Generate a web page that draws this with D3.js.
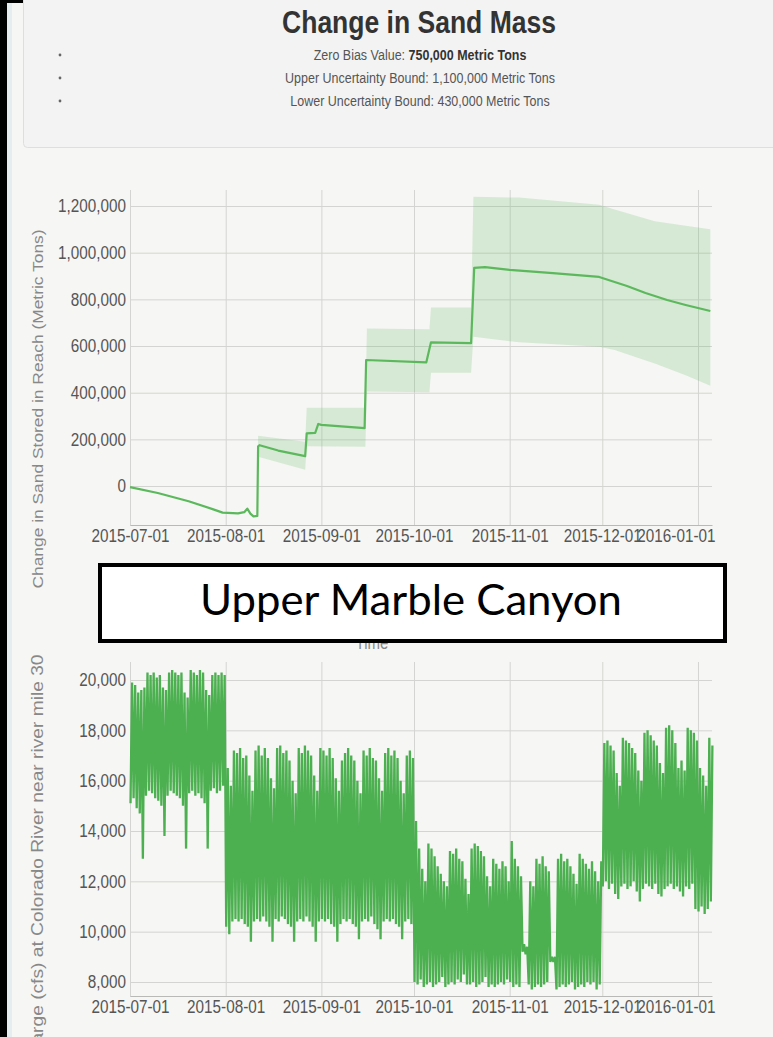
<!DOCTYPE html>
<html>
<head>
<meta charset="utf-8">
<script src="https://cdn.jsdelivr.net/npm/d3@7"></script>
<style>
  html, body { margin: 0; padding: 0; background: #000; }
  svg { display: block; font-family: "Liberation Sans", Arial, sans-serif; }
  /* glyphs of the captured dashboard are a little taller than they are wide */
  .tall { transform-box: fill-box; transform-origin: center; transform: scaleY(1.2); }
  .long { transform-box: fill-box; transform-origin: center; transform: scaleX(1.2); }
</style>
</head>
<body>
<svg id="page" width="773" height="1037"></svg>
<script>
// ---------- sand storage (metric tons) ----------
const sandDates = [
  "2015-07-01", "2015-07-10", "2015-07-20", "2015-07-28", "2015-07-31", "2015-08-05",
  "2015-08-07", "2015-08-08", "2015-08-09", "2015-08-10", "2015-08-11T06:00", "2015-08-11T12:00",
  "2015-08-12", "2015-08-18", "2015-08-26T18:00", "2015-08-27T06:00", "2015-08-30", "2015-08-31",
  "2015-09-01", "2015-09-15T00:00", "2015-09-15T12:00", "2015-10-05", "2015-10-06T12:00",
  "2015-10-19T12:00", "2015-10-20T12:00", "2015-10-24", "2015-11-01", "2015-11-15", "2015-11-30",
  "2015-12-05", "2015-12-09", "2015-12-15", "2015-12-22", "2015-12-28", "2016-01-05"
];
const sandValues = [
  -5000, -30000, -65000, -100000, -114000, -117000,
  -112000, -97000, -118000, -130000, -128000, 170000,
  175000, 152000, 128000, 226000, 228000, 266000,
  262000, 248000, 540000, 530000, 616000,
  612000, 935000, 938000, 926000, 912000, 896000,
  874000, 857000, 827000, 797000, 776000, 750000
];

// uncertainty envelope around the storage estimate
const bandDates = [
  "2015-08-11T12:00", "2015-08-26T18:00", "2015-08-27T06:00", "2015-09-15T06:00",
  "2015-09-15T18:00", "2015-10-06T00:00", "2015-10-06T12:00", "2015-10-19T12:00",
  "2015-10-20T06:00", "2015-11-04", "2015-11-30", "2015-12-05", "2015-12-18",
  "2015-12-28", "2016-01-05"
];
const bandUpper = [
  215000, 190000, 335000, 335000,
  675000, 672000, 765000, 765000,
  1240000, 1236000, 1205000, 1185000, 1135000,
  1115000, 1100000
];
const bandLower = [
  125000, 70000, 170000, 168000,
  405000, 402000, 485000, 485000,
  640000, 616000, 597000, 583000, 525000,
  475000, 430000
];

// ---------- discharge (cfs), daily high and low from 2015-07-01 ----------
const flowStart = "2015-07-01";
const flowHigh = [
  // July
  19900, 19800, 19500, 19600, 19700,
  20300, 20200, 20300, 20100, 20200, 19700, 19600,
  20300, 20400, 20300, 20200, 20300, 19500, 19300,
  20400, 20300, 20200, 20400, 20300, 19600, 19400,
  20200, 20300, 20200, 20300, 20200,
  // August
  16500, 15800, 17200, 17100, 17300, 16900, 17000,
  16200, 15600, 17200, 17400, 17000, 17300, 16900,
  16100, 15700, 17300, 17400, 17100, 17200, 16800,
  16000, 15500, 17300, 17100, 17400, 17200, 17000,
  16200, 15600, 17300,
  // September
  17200, 17000, 17300, 16900,
  16100, 15600, 16800, 17100, 17300, 17000, 16800,
  16000, 15500, 17200, 17000, 17300, 16900, 16800,
  16100, 15600, 17100, 17300, 17000, 17200, 16900,
  16000, 15500, 17000, 17200, 16900,
  // October
  14400, 13300,
  12500, 12000, 13500, 13300, 13000, 12600, 12300,
  12000, 11800, 13200, 13100, 13300, 12900, 12800,
  12100, 11500, 13300, 13500, 13400, 13200, 13000,
  12200, 11800, 12900, 12700, 12500, 12800, 12600,
  12000,
  // November
  13600,
  12900, 12600, 12200, 9500, 9400, 12000,
  11800, 12900, 12700, 13000, 12600, 12400, 9000,
  9000, 12900, 13100, 12800, 12900, 12600, 12300,
  11900, 13100, 12900, 12700, 12500, 12800, 12400,
  12000, 12800,
  // December
  17500, 17600, 17400, 17200, 16300,
  15800, 17700, 17600, 17500, 17300, 17100, 16400,
  16000, 17900, 18000, 17800, 17600, 17400, 16700,
  16300, 18100, 18200, 18000, 17500, 16500, 16800,
  16400, 18100, 18000, 17900, 17600,
  // January
  16500, 16200, 15800, 17700, 17400
];
const flowLow = [
  // July
  15100, 15300, 14900, 14700, 12900,
  15400, 15600, 15500, 15300, 15200, 15000, 13800,
  15400, 15600, 15500, 15400, 15300, 15000, 13300,
  15500, 15600, 15400, 15500, 15300, 15100, 13300,
  15600, 15700, 15500, 15600, 15800,
  // August
  10200, 9900, 10400, 10500, 10400, 10500, 10300,
  10200, 9600, 10400, 10500, 10400, 10600, 10400,
  10200, 9600, 10500, 10400, 10600, 10500, 10300,
  10200, 9600, 10400, 10500, 10400, 10600, 10400,
  10200, 9600, 10400,
  // September
  10500, 10400, 10500, 10300,
  10200, 9600, 10300, 10500, 10400, 10500, 10300,
  10200, 9700, 10400, 10500, 10400, 10600, 10300,
  10100, 9700, 10400, 10500, 10400, 10500, 10300,
  10200, 9700, 10400, 10500, 10300,
  // October
  8000, 7900,
  8100, 7800, 7900, 8000, 7800, 7900, 8000,
  8200, 7800, 7900, 8000, 7900, 8100, 8000,
  8300, 7900, 7900, 8000, 7800, 7900, 8000,
  8200, 7800, 7900, 7800, 7900, 8000, 7900,
  8100,
  // November
  8000,
  7800, 7900, 7800, 9200, 9100, 7900,
  7700, 7800, 7900, 7800, 7900, 8000, 8800,
  8800, 7700, 7800, 7900, 7800, 7900, 8000,
  7700, 7800, 7900, 7800, 8000, 7900, 8000,
  7700, 7900,
  // December
  11800, 12000, 11700, 11900, 11500,
  11300, 11800, 11900, 11700, 11800, 12000, 11600,
  11200, 11700, 11900, 11800, 11700, 11900, 11500,
  11400, 11700, 11800, 11900, 11700, 11800, 11600,
  11400, 11800, 11700, 11900, 10900,
  // January
  10800, 11000, 10700, 10900, 11200
];

// ---------- axis ticks ----------
const monthTicks = ["2015-07-01", "2015-08-01", "2015-09-01", "2015-10-01", "2015-11-01", "2015-12-01", "2016-01-01"];
const sandTicks = [0, 200000, 400000, 600000, 800000, 1000000, 1200000];
const flowTicks = [8000, 10000, 12000, 14000, 16000, 18000, 20000];

// ---------- text ----------
const titleText = "Change in Sand Mass";
const bulletLines = [
  ["Zero Bias Value: ", "750,000 Metric Tons"],
  ["Upper Uncertainty Bound: 1,100,000 Metric Tons", ""],
  ["Lower Uncertainty Bound: 430,000 Metric Tons", ""]
];
const sandAxisTitle = "Change in Sand Stored in Reach (Metric Tons)";
const flowAxisTitle = "Discharge (cfs) at Colorado River near river mile 30";
const timeTitle = "Time";
const reachName = "Upper Marble Canyon";

// ---------- helpers ----------
const parseDay = d3.utcParse("%Y-%m-%d");
const parseStamp = d3.utcParse("%Y-%m-%dT%H:%M");
const P = s => (s.length > 10 ? parseStamp(s) : parseDay(s));

const svg = d3.select("#page");

// page frame
svg.append("rect").attr("width", 773).attr("height", 1037).attr("fill", "#000");
svg.append("rect").attr("x", 7).attr("y", 3).attr("width", 6).attr("height", 1034).attr("fill", "#e6edf0");
svg.append("rect").attr("x", 12).attr("y", 3).attr("width", 761).attr("height", 1034).attr("fill", "#f6f6f4");

// header panel
svg.append("rect")
  .attr("x", 23.5).attr("y", -10).attr("width", 800).attr("height", 157.5).attr("rx", 4)
  .attr("fill", "#f3f3f3").attr("stroke", "#dedede");

svg.append("text")
  .attr("class", "tall")
  .attr("x", 419).attr("y", 31)
  .attr("text-anchor", "middle")
  .attr("font-size", 26.5).attr("font-weight", "bold").attr("fill", "#333")
  .text(titleText);

bulletLines.forEach((parts, i) => {
  const cy = 55 + i * 23;
  svg.append("circle").attr("cx", 60).attr("cy", cy).attr("r", 1.4).attr("fill", "#666");
  const t = svg.append("text")
    .attr("class", "tall")
    .attr("x", 420).attr("y", cy + 4.5)
    .attr("text-anchor", "middle")
    .attr("font-size", 12.5).attr("fill", "#555");
  t.append("tspan").text(parts[0]);
  if (parts[1]) t.append("tspan").attr("font-weight", "bold").attr("fill", "#333").text(parts[1]);
});

// ---------- shared x scale ----------
const xDomain = [P("2015-07-01"), P("2016-01-05T13:00")];
const plotLeft = 130, plotRight = 712;
const fmtDate = d3.utcFormat("%Y-%m-%d");
const monthDates = monthTicks.map(P);

function drawFrame(g, x, y, yTicks, top, bottom) {
  const yAxis = g.append("g")
    .attr("transform", `translate(${plotLeft},0)`)
    .call(d3.axisLeft(y).tickValues(yTicks).tickFormat(d3.format(","))
      .tickSize(-(plotRight - plotLeft)).tickSizeOuter(0).tickPadding(4));
  const xAxis = g.append("g")
    .attr("transform", `translate(0,${bottom})`)
    .call(d3.axisBottom(x).tickValues(monthDates).tickFormat(fmtDate)
      .tickSize(-(bottom - top)).tickSizeOuter(0).tickPadding(5));

  [yAxis, xAxis].forEach(a => {
    a.attr("font-family", null).attr("font-size", null);
    a.selectAll(".tick line").attr("stroke", "#d4d4d2");
    a.select(".domain").attr("stroke", "#b9b9b7");
    a.selectAll(".tick text").attr("class", "tall").attr("font-size", 15.3).attr("fill", "#555");
  });

  // keep the last date label inside the plot's right edge
  xAxis.selectAll(".tick").each(function (d) {
    const txt = d3.select(this).select("text");
    const w = txt.node().getComputedTextLength();
    const right = x(d) + w / 2;
    if (right > plotRight + 3) txt.attr("x", plotRight + 3 - right);
  });
}

function drawAxisTitle(cx, cy, label, size) {
  svg.append("g")
    .attr("transform", `translate(${cx},${cy}) rotate(-90)`)
    .append("text")
    .attr("class", "long")
    .attr("text-anchor", "middle")
    .attr("dominant-baseline", "central")
    .attr("font-size", size).attr("fill", "#888")
    .text(label);
}

// ---------- chart 1: change in sand mass ----------
const top1 = 190, bottom1 = 525;
const x1 = d3.scaleUtc().domain(xDomain).range([plotLeft, plotRight]);
const y1 = d3.scaleLinear().domain([-167000, 1268600]).range([bottom1, top1]);
const g1 = svg.append("g");
drawFrame(g1, x1, y1, sandTicks, top1, bottom1);

const band = bandDates.map((d, i) => ({ t: P(d), lo: bandLower[i], hi: bandUpper[i] }));
g1.append("path")
  .datum(band)
  .attr("fill", "#5cb85c").attr("fill-opacity", 0.2)
  .attr("d", d3.area().x(d => x1(d.t)).y0(d => y1(d.lo)).y1(d => y1(d.hi)));

const sand = sandDates.map((d, i) => ({ t: P(d), v: sandValues[i] }));
g1.append("path")
  .datum(sand)
  .attr("fill", "none").attr("stroke", "#5cb85c").attr("stroke-width", 2.2)
  .attr("stroke-linejoin", "round")
  .attr("d", d3.line().x(d => x1(d.t)).y(d => y1(d.v)));

drawAxisTitle(38, 409, sandAxisTitle, 14.5);

svg.append("text")
  .attr("class", "tall")
  .attr("x", 372).attr("y", 648)
  .attr("text-anchor", "middle")
  .attr("font-size", 15).attr("fill", "#888")
  .text(timeTitle);

// ---------- chart 2: discharge ----------
const top2 = 662, bottom2 = 996;
const x2 = d3.scaleUtc().domain(xDomain).range([plotLeft, plotRight]);
const y2 = d3.scaleLinear().domain([7444, 20715]).range([bottom2, top2]);
const g2 = svg.append("g");
drawFrame(g2, x2, y2, flowTicks, top2, bottom2);

// each day: night-time low, then afternoon high
const day0 = P(flowStart);
const flow = [];
flowHigh.forEach((hi, i) => {
  const day = d3.utcDay.offset(day0, i);
  flow.push({ t: d3.utcHour.offset(day, 4), v: flowLow[i] });
  flow.push({ t: d3.utcHour.offset(day, 16), v: hi });
});
g2.append("path")
  .datum(flow)
  .attr("fill", "none").attr("stroke", "#4caf50").attr("stroke-width", 2.3)
  .attr("stroke-linejoin", "miter").attr("stroke-miterlimit", 2)
  .attr("d", d3.line().x(d => x2(d.t)).y(d => y2(d.v)));

drawAxisTitle(38, 873, flowAxisTitle, 16);

// ---------- reach name callout ----------
svg.append("rect")
  .attr("x", 100).attr("y", 565).attr("width", 625).attr("height", 76)
  .attr("fill", "#fff").attr("stroke", "#000").attr("stroke-width", 4);
svg.append("text")
  .attr("x", 411).attr("y", 615)
  .attr("text-anchor", "middle")
  .attr("font-family", "Lato, 'Open Sans', sans-serif")
  .attr("font-size", 42).attr("fill", "#000")
  .attr("textLength", 422).attr("lengthAdjust", "spacingAndGlyphs")
  .text(reachName);
</script>
</body>
</html>
